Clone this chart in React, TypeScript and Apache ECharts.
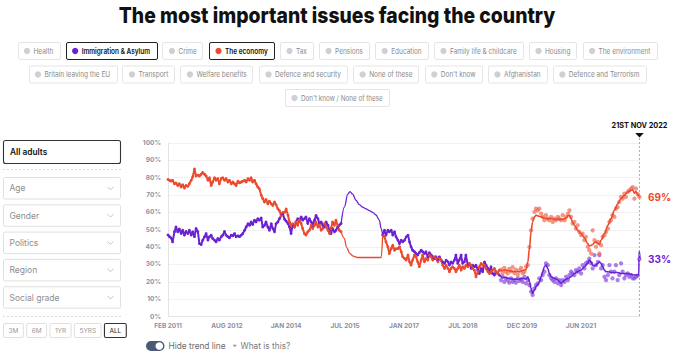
import React, { useEffect, useRef } from "react";
import * as echarts from "echarts";

const FONT = "Inter, 'Noto Sans', Roboto, sans-serif";
const RED = "#ec4a2c";
const PURPLE = "#6b21d4";
const RED_DOT = "#ee6a50";
const PURPLE_DOT = "#8548df";

const titleText = "The most important issues facing the country";
const issueRow1 = ["Health", "Immigration & Asylum", "Crime", "The economy", "Tax", "Pensions", "Education", "Family life & childcare", "Housing", "The environment"];
const issueRow2 = ["Britain leaving the EU", "Transport", "Welfare benefits", "Defence and security", "None of these", "Don't know", "Afghanistan", "Defence and Terrorism"];
const issueRow3 = ["Don't know / None of these"];
const shownIssues = ["Immigration & Asylum", "The economy"];
const filterLabels = ["Age", "Gender", "Politics", "Region", "Social grade"];
const audienceLabel = "All adults";
const rangeButtons = ["3M", "6M", "1YR", "5YRS", "ALL"];
const activeRange = "ALL";
const toggleLabel = "Hide trend line";
const helpLabel = "What is this?";

const axisStartDate = "2011-02-01";
const axisEndDate = "2022-11-21";
const axisEndLabel = "21ST NOV 2022";
const xTickLabels = ["FEB 2011", "AUG 2012", "JAN 2014", "JUL 2015", "JAN 2017", "JUL 2018", "DEC 2019", "JUN 2021", ""];

// ---- Survey data, Feb 2011 - Jun 2015 ----
const earlyDates1 = [
  "2011-02-01","2011-02-15","2011-03-01","2011-03-15","2011-04-01","2011-04-15","2011-05-01","2011-05-15","2011-06-01","2011-06-15","2011-07-01","2011-07-15","2011-08-01","2011-08-15","2011-09-01","2011-09-15","2011-10-01","2011-10-15","2011-11-01","2011-11-15","2011-12-01","2011-12-15",
  "2012-01-01","2012-01-15","2012-02-01","2012-02-15","2012-03-01","2012-03-15","2012-04-01","2012-04-15","2012-05-01","2012-05-15","2012-06-01","2012-06-15","2012-07-01","2012-07-15","2012-08-01","2012-08-15","2012-09-01","2012-09-15","2012-10-01","2012-10-15","2012-11-01","2012-11-15","2012-12-01","2012-12-15",
  "2013-01-01","2013-01-15","2013-02-01","2013-02-15","2013-03-01","2013-03-15","2013-04-01","2013-04-15","2013-05-01","2013-05-15","2013-06-01","2013-06-15","2013-07-01","2013-07-15","2013-08-01","2013-08-15","2013-09-01","2013-09-15","2013-10-01","2013-10-15","2013-11-01","2013-11-15","2013-12-01","2013-12-15",
  "2014-01-01","2014-01-15","2014-02-01","2014-02-15","2014-03-01","2014-03-15","2014-04-01","2014-04-15","2014-05-01","2014-05-15","2014-06-01","2014-06-15","2014-07-01","2014-07-15","2014-08-01","2014-08-15","2014-09-01","2014-09-15","2014-10-01","2014-10-15","2014-11-01","2014-11-15","2014-12-01","2014-12-15",
  "2015-01-01","2015-01-15","2015-02-01","2015-02-15","2015-03-01","2015-03-15","2015-04-01","2015-04-15","2015-05-01","2015-05-15","2015-06-01",
];
const economyEarly1 = [
  79, 78.5, 78, 78.5, 76.5, 77, 75.5, 76.5, 74.6, 76, 74, 75.5, 75, 76.5, 78.5, 80.5, 85, 81, 81.5, 81, 82, 83,
  82, 81, 78.5, 80, 75.5, 77.5, 80, 78.5, 79.5, 76.5, 79.5, 80, 78.5, 79.5, 77.5, 78.5, 76.5, 77.5, 76.5, 75.5, 78, 77, 77.5, 78,
  78.5, 77.5, 79.5, 78.5, 80, 77.5, 78.5, 76.5, 74.6, 73.7, 70, 68, 66, 67.5, 65, 66.5, 65, 64, 66, 64.5, 62, 61, 58, 60,
  60, 62, 58.4, 54.5, 52.6, 53.5, 51.6, 54.5, 52.6, 55.5, 53.6, 50.7, 47.8, 46.9, 48.8, 49.7, 52.6, 50.7, 52.6, 54.5, 51.6, 52.6, 49.7, 50.7,
  53.6, 51.6, 49.7, 47.8, 50.7, 54.5, 52.6, 55.5, 52.6, 49.7, 48.8,
];
const immigrationEarly1 = [
  47, 46, 45.3, 43, 48.8, 51.6, 48.8, 50.5, 47.8, 49.7, 46.9, 49, 47.8, 49.7, 46.9, 48.8, 46, 50.7, 48.8, 42, 41.5, 44,
  46, 47.8, 44, 46, 46.9, 45, 44, 43, 45, 44, 46, 46.9, 49, 46.9, 46, 45.3, 46.9, 46.5, 47.8, 46, 46.5, 46, 46.9, 47.8,
  49.7, 51.6, 53.5, 52.5, 54.5, 53, 55.5, 54.5, 56.4, 55.5, 56.8, 51.6, 52.5, 54.5, 51.6, 49.7, 53.5, 50.7, 48.8, 53.5, 54.5, 56.4, 58.3, 59.3,
  56, 55, 53.6, 51.6, 47.8, 52.6, 51.6, 54.5, 56.4, 55.5, 57.4, 55.5, 56.4, 57.4, 53.6, 56.4, 54.5, 52.6, 55.5, 58.3, 56.4, 53.6, 54.5, 52.6,
  51.6, 54.5, 52.6, 49.7, 47.8, 50.7, 48.8, 49.7, 51.6, 52.6, 53.6,
];

// ---- Sparse period, Jun 2015 - Jun 2016 ----
const economyGap: [string, number][] = [
  ["2015-06-01", 48.8], ["2015-07-01", 45], ["2015-07-20", 40], ["2015-08-20", 36.3], ["2015-09-20", 34.8],
  ["2015-11-01", 34], ["2016-06-01", 34], ["2016-06-15", 47],
];
const immigrationGap: [string, number][] = [
  ["2015-06-01", 53.6], ["2015-07-01", 63], ["2015-08-01", 70.5], ["2015-08-20", 72], ["2015-09-15", 70.5],
  ["2015-10-15", 67], ["2015-11-15", 64.5], ["2015-12-15", 63], ["2016-01-15", 62], ["2016-02-15", 61],
  ["2016-03-15", 60], ["2016-04-15", 58.5], ["2016-05-15", 55.5], ["2016-06-01", 50.7], ["2016-06-15", 46.9],
];

// ---- Survey data, Jun 2016 - May 2019 ----
const earlyDates2 = [
  "2016-06-15","2016-07-01","2016-07-15","2016-08-01","2016-08-15","2016-09-01","2016-09-15","2016-10-01","2016-10-15","2016-11-01","2016-11-15","2016-12-01","2016-12-15",
  "2017-01-01","2017-01-15","2017-02-01","2017-02-15","2017-03-01","2017-03-15","2017-04-01","2017-04-15","2017-05-01","2017-05-15","2017-06-01","2017-06-15","2017-07-01","2017-07-15","2017-08-01","2017-08-15","2017-09-01","2017-09-15","2017-10-01","2017-10-15","2017-11-01","2017-11-15","2017-12-01","2017-12-15",
  "2018-01-01","2018-01-15","2018-02-01","2018-02-15","2018-03-01","2018-03-15","2018-04-01","2018-04-15","2018-05-01","2018-05-15","2018-06-01","2018-06-15","2018-07-01","2018-07-15","2018-08-01","2018-08-15","2018-09-01","2018-09-15","2018-10-01","2018-10-15","2018-11-01","2018-11-15","2018-12-01","2018-12-15",
  "2019-01-01","2019-01-15","2019-02-01","2019-02-15","2019-03-01","2019-03-15","2019-04-01","2019-04-15","2019-05-01","2019-05-15",
];
const economyEarly2 = [
  47, 45.9, 43, 40.2, 36.3, 39.2, 41.1, 38.2, 39, 39.2, 40.2, 37.3, 34.4,
  33.4, 32.5, 35.4, 31.5, 29.6, 32.5, 35.4, 34.4, 31.5, 28.7, 32.5, 35.4, 31.5, 33.4, 32.5, 35.4, 34.4, 32.5, 34.4, 33.4, 31.5, 33.4, 32.5, 29.6,
  27.7, 29.6, 27.7, 25.8, 27.7, 28.7, 27.7, 25.8, 27.7, 29.6, 26.7, 28.7, 27.7, 29.6, 28.7, 30.6, 29.6, 27.7, 26.7, 22.9, 25.8, 28.7, 30.6, 29.6,
  29.6, 27.7, 25.8, 24.8, 25.8, 26.7, 27.7, 25.8, 24.8, 26.7,
];
const immigrationEarly2 = [
  46.9, 49.7, 46.9, 49.7, 48.8, 49.7, 46.9, 48.8, 45.9, 44, 42, 44, 43,
  44, 45.9, 46.9, 43, 40.2, 38.2, 37.3, 36.3, 35.4, 36.8, 38.2, 37.3, 36.3, 37.3, 34.4, 36.8, 35.4, 34.4, 33.4, 34.4, 32.5, 34.4, 32.5, 31.5,
  30.6, 32.5, 31.5, 29.6, 31.5, 30.6, 32.5, 35.4, 30.6, 32.5, 35.4, 30.6, 31.5, 35.4, 29.6, 30.6, 27.7, 29.6, 28.7, 29.6, 26.7, 24.8, 27.7, 25.8,
  31.5, 29.6, 27.7, 25.8, 28.7, 24.8, 23.9, 25.8, 24.8, 23.9,
];

// ---- Survey points, Jun 2019 - Nov 2022 ----
const lateDates = [
  "2019-06-01","2019-06-15","2019-07-01","2019-07-15","2019-08-01","2019-08-15","2019-09-01","2019-09-15","2019-10-01","2019-10-15","2019-11-01","2019-11-15","2019-12-01","2019-12-15",
  "2020-01-01","2020-01-15","2020-02-01","2020-02-15","2020-03-01","2020-03-15","2020-04-01","2020-04-15","2020-05-01","2020-05-15","2020-06-01","2020-06-15","2020-07-01","2020-07-15","2020-08-01","2020-08-15","2020-09-01","2020-09-15","2020-10-01","2020-10-15","2020-11-01","2020-11-15","2020-12-01","2020-12-15",
  "2021-01-01","2021-01-15","2021-02-01","2021-02-15","2021-03-01","2021-03-15","2021-04-01","2021-04-15","2021-05-01","2021-05-15","2021-06-01","2021-06-15","2021-07-01","2021-07-15","2021-08-01","2021-08-15","2021-09-01","2021-09-15","2021-10-01","2021-10-15","2021-11-01","2021-11-15","2021-12-01","2021-12-15",
  "2022-01-01","2022-01-15","2022-02-01","2022-02-15","2022-03-01","2022-03-15","2022-04-01","2022-04-15","2022-05-01","2022-05-15","2022-06-01","2022-06-15","2022-07-01","2022-07-15","2022-08-01","2022-08-15","2022-09-01","2022-09-15","2022-10-01","2022-10-15","2022-11-01","2022-11-15",
];
const economyPoints = [
  27, 25, 28, 26, 24.8, 27.5, 26, 28.5, 25, 27, 24, 26.5, 28, 25,
  25.8, 28.7, 29.6, 40, 49.7, 56.4, 60.3, 62.2, 61.2, 62.2, 59.3, 57.4, 55.5, 58.4, 56.4, 55.5, 57.4, 54.5, 56.4, 55.5, 57.4, 56.4, 55.5, 58.4,
  55.5, 57.4, 59.3, 61.2, 57.4, 53.6, 54.5, 50.7, 52.6, 48.8, 46.9, 47.8, 44, 45.9, 40.2, 38.2, 36.3, 49.7, 44, 40.2, 43, 36.3, 41.1, 45.9,
  46.9, 48.8, 50.7, 54.5, 55.5, 58.4, 57.4, 62.2, 63.1, 66, 68.9, 67.9, 70.8, 68.9, 71.8, 72.7, 73.7, 74.6, 67.9, 73.7, 70.5, 69,
];
const immigrationPoints = [
  21, 23, 20, 22, 21, 19.5, 22, 20, 21, 19.5, 22, 20.5, 21.5, 20,
  22.9, 19.1, 21, 18.1, 14.3, 12.4, 16.2, 18.1, 19.1, 22, 21, 23.9, 25.8, 30.6, 29.6, 23.9, 22, 21, 20, 22, 19.1, 21, 18.1, 21,
  20, 22.9, 21, 23.9, 25.8, 24.8, 23.9, 26.7, 25.8, 27.7, 24.8, 29.6, 27.7, 30.6, 31.5, 33.4, 30.6, 27.7, 35.4, 29.6, 31.5, 35.4, 27.7, 29.6,
  22.9, 21, 23.9, 29.6, 25.8, 22, 25.8, 29.6, 21, 23.9, 30.6, 25.8, 22, 23.9, 24.8, 22.9, 23.9, 22, 22, 22.9, 23.5, 33,
];

// ---- Trend lines, May 2019 - Nov 2022 ----
const economyTrend: [string, number][] = [
  ["2019-05-15", 26.7], ["2019-06-15", 26.5], ["2019-07-15", 26.8], ["2019-08-15", 26.3], ["2019-09-15", 26], ["2019-10-15", 25.8],
  ["2019-11-15", 25.8], ["2019-12-15", 26.5], ["2020-01-15", 27], ["2020-02-01", 31.5], ["2020-02-15", 39.2], ["2020-03-01", 48.8],
  ["2020-03-15", 54.5], ["2020-04-01", 57.4], ["2020-04-15", 58.4], ["2020-05-01", 58], ["2020-06-01", 57.4], ["2020-07-01", 56.8],
  ["2020-08-01", 56.4], ["2020-09-01", 56.4], ["2020-10-01", 56], ["2020-11-01", 56], ["2020-12-01", 56], ["2021-01-01", 56.4],
  ["2021-01-15", 56.8], ["2021-02-01", 58], ["2021-02-15", 58.4], ["2021-03-01", 56.4], ["2021-03-15", 54.5], ["2021-04-01", 52.6],
  ["2021-05-01", 49.7], ["2021-06-01", 47.8], ["2021-07-01", 45.3], ["2021-08-01", 42], ["2021-08-15", 40.7], ["2021-09-01", 41],
  ["2021-09-15", 41.5], ["2021-10-01", 42.6], ["2021-10-15", 43], ["2021-11-01", 42], ["2021-11-15", 41.5], ["2021-12-01", 44],
  ["2022-01-01", 47.8], ["2022-02-01", 52.6], ["2022-03-01", 56.4], ["2022-04-01", 61.2], ["2022-05-01", 65], ["2022-06-01", 68],
  ["2022-07-01", 69.8], ["2022-08-01", 71.8], ["2022-09-01", 72.7], ["2022-09-15", 73], ["2022-10-01", 71], ["2022-10-15", 72],
  ["2022-11-01", 70], ["2022-11-21", 69],
];
const immigrationTrend: [string, number][] = [
  ["2019-05-15", 23.9], ["2019-06-15", 22.5], ["2019-07-15", 22.5], ["2019-08-15", 22], ["2019-09-15", 21.5], ["2019-10-15", 21.5],
  ["2019-11-15", 21.5], ["2019-12-15", 22], ["2020-01-15", 21.5], ["2020-02-01", 22.9], ["2020-02-15", 20], ["2020-03-01", 16.2],
  ["2020-03-15", 13.3], ["2020-04-01", 15.2], ["2020-04-15", 17.2], ["2020-05-01", 18.1], ["2020-05-15", 20], ["2020-06-01", 22.9],
  ["2020-06-15", 25.8], ["2020-07-01", 28.7], ["2020-07-15", 29.6], ["2020-08-01", 27.7], ["2020-08-15", 24.8], ["2020-09-01", 22.9],
  ["2020-10-01", 22], ["2020-11-01", 21], ["2020-11-15", 20], ["2020-12-01", 19.1], ["2020-12-15", 20], ["2021-01-01", 21],
  ["2021-02-01", 22], ["2021-03-01", 22.9], ["2021-04-01", 24.8], ["2021-05-01", 25.8], ["2021-06-01", 26.7], ["2021-07-01", 28.7],
  ["2021-08-01", 30.6], ["2021-08-15", 32.5], ["2021-09-01", 31.5], ["2021-09-15", 29.6], ["2021-10-01", 29.2], ["2021-10-15", 29.6],
  ["2021-11-01", 30.6], ["2021-11-15", 31.5], ["2021-12-01", 30.6], ["2021-12-15", 28.7], ["2022-01-01", 26.7], ["2022-01-15", 25.8],
  ["2022-02-01", 25.8], ["2022-03-01", 25.4], ["2022-04-01", 25.4], ["2022-05-01", 25.4], ["2022-06-01", 24.8], ["2022-07-01", 24.8],
  ["2022-08-01", 24.8], ["2022-09-01", 24.3], ["2022-10-01", 23.9], ["2022-11-10", 23.9], ["2022-11-14", 38], ["2022-11-21", 33],
];

const T0 = Date.parse(axisStartDate);
const T1 = Date.parse(axisEndDate);
const X_STEPS = xTickLabels.length - 1;
const toX = (d: string) => ((Date.parse(d) - T0) / (T1 - T0)) * X_STEPS;
const zip = (dates: string[], vals: number[]) => dates.map((d, i) => [toX(d), vals[i]]);
const pairs = (arr: [string, number][]) => arr.map(([d, v]) => [toX(d), v]);

function measure(text: string, font: string): number {
  const ctx = document.createElement("canvas").getContext("2d");
  if (!ctx) return text.length * 4;
  ctx.font = font;
  return ctx.measureText(text).width;
}

const txt = (text: string, x: number, y: number, o: any = {}) => ({
  type: "text",
  x,
  y,
  z: 20,
  silent: true,
  scaleX: o.scaleX ?? 1,
  style: {
    text,
    fontFamily: FONT,
    fontSize: o.size ?? 8,
    fontWeight: o.weight ?? "normal",
    fill: o.color ?? "#666",
    textAlign: o.align ?? "left",
    textVerticalAlign: "middle",
  },
});

function buildGraphic(chart: echarts.ECharts) {
  const g: any[] = [];
  const W = 674;
  // Title
  const titleW = measure(titleText, `800 22px ${FONT}`);
  g.push(txt(titleText, W / 2, 15.5, { size: 22, weight: 800, color: "#111", align: "center", scaleX: 437 / titleW }));

  // Issue chips (each row fitted to the width it takes in the reference)
  const rows = [issueRow1, issueRow2, issueRow3];
  const rowTops = [42, 65.5, 89];
  const rowWidths = [639, 617, 104];
  const chipH = 17;
  const gap = 6.2;
  const pad = 22;
  rows.forEach((row, ri) => {
    const textW = row.map((name) => {
      const sel = shownIssues.includes(name);
      return measure(name, `${sel ? 600 : 400} 7.5px ${FONT}`);
    });
    const sumText = textW.reduce((a, b) => a + b, 0);
    const k = Math.min(1, (rowWidths[ri] - pad * row.length - gap * (row.length - 1)) / sumText);
    const widths = textW.map((w) => w * k + pad);
    const total = widths.reduce((a, b) => a + b, 0) + gap * (row.length - 1);
    let x = W / 2 - total / 2;
    row.forEach((name, i) => {
      const sel = shownIssues.includes(name);
      const color = name === "The economy" ? RED : name === "Immigration & Asylum" ? PURPLE : "#cfcfd4";
      const y = rowTops[ri];
      g.push({
        type: "rect", z: 20, silent: true,
        shape: { x: Math.round(x) + 0.5, y: y + 0.5, width: Math.round(widths[i]), height: chipH, r: 1.5 },
        style: { fill: "#fff", stroke: sel ? "#222" : "#dedede", lineWidth: sel ? 1 : 0.8 },
      });
      g.push({ type: "circle", z: 21, silent: true, shape: { cx: x + 9.5, cy: y + chipH / 2 + 0.5, r: 3.1 }, style: { fill: color } });
      g.push(txt(name, x + 16, y + chipH / 2 + 0.7, { size: 7.5, weight: sel ? 600 : 400, color: sel ? "#111" : "#8a8a8a", scaleX: k }));
      x += widths[i] + gap;
    });
  });

  // Left panel
  g.push({ type: "rect", z: 20, silent: true, shape: { x: 3.5, y: 140.5, width: 117, height: 23, r: 2 }, style: { fill: "#fff", stroke: "#333", lineWidth: 1.1 } });
  g.push(txt(audienceLabel, 10, 152.2, { size: 8.3, weight: 600, color: "#111" }));
  g.push({ type: "line", z: 20, silent: true, shape: { x1: 3, y1: 169.5, x2: 121, y2: 169.5 }, style: { stroke: "#cfcfcf", lineWidth: 0.8, lineDash: [2, 2] } });
  const ddTops = [177, 204.3, 231.6, 258.9, 286.2];
  filterLabels.forEach((label, i) => {
    const y = ddTops[i];
    g.push({ type: "rect", z: 20, silent: true, shape: { x: 3.5, y: y + 0.5, width: 117, height: 21.5, r: 1.5 }, style: { fill: "#fff", stroke: "#dcdcdc", lineWidth: 0.9 } });
    g.push(txt(label, 9.5, y + 11.3, { size: 8.5, color: "#8d8d8d" }));
    const cy = y + 11.3;
    g.push({ type: "polyline", z: 21, silent: true, shape: { points: [[107.5, cy - 1.5], [110.5, cy + 1.5], [113.5, cy - 1.5]] }, style: { stroke: "#b5b5b5", fill: null, lineWidth: 0.8 } });
  });
  g.push({ type: "line", z: 20, silent: true, shape: { x1: 3, y1: 316.5, x2: 121, y2: 316.5 }, style: { stroke: "#cfcfcf", lineWidth: 0.8, lineDash: [2, 2] } });
  let bx = 3;
  rangeButtons.forEach((label) => {
    const active = label === activeRange;
    const w = measure(label, `400 6.5px ${FONT}`) + 10;
    g.push({ type: "rect", z: 20, silent: true, shape: { x: bx + 0.5, y: 323.5, width: w, height: 14, r: 1.5 }, style: { fill: "#fff", stroke: active ? "#333" : "#dcdcdc", lineWidth: active ? 1.1 : 0.9 } });
    g.push(txt(label, bx + 0.5 + w / 2, 330.8, { size: 6.5, color: active ? "#222" : "#9a9a9a", align: "center" }));
    bx += w + 3.3;
  });

  // Trend toggle
  g.push({ type: "rect", z: 20, silent: true, shape: { x: 146, y: 341, width: 18.5, height: 10, r: 5 }, style: { fill: "#4b5876" } });
  g.push({ type: "circle", z: 21, silent: true, shape: { cx: 159.3, cy: 346, r: 3.8 }, style: { fill: "#fff" } });
  g.push(txt(toggleLabel, 168.5, 346.3, { size: 8.3, color: "#6b6b6b" }));
  g.push({ type: "polygon", z: 20, silent: true, shape: { points: [[232.5, 344.8], [237, 344.8], [234.75, 347.2]] }, style: { fill: "#9a9a9a" } });
  g.push(txt(helpLabel, 240.5, 346.3, { size: 8.3, color: "#7a7a7a" }));

  // Latest-date marker
  const top = chart.convertToPixel({ xAxisIndex: 0, yAxisIndex: 0 }, [X_STEPS, 100]) as number[];
  const bottom = chart.convertToPixel({ xAxisIndex: 0, yAxisIndex: 0 }, [X_STEPS, 0]) as number[];
  const mx = Math.round(top[0]) - 0.5;
  g.push({ type: "line", z: 5, silent: true, shape: { x1: mx, y1: top[1] - 5, x2: mx, y2: bottom[1] }, style: { stroke: "#9a9a9a", lineWidth: 0.8, lineDash: [2, 2] } });
  g.push({ type: "polygon", z: 20, silent: true, shape: { points: [[mx - 4.3, top[1] - 10], [mx + 4.3, top[1] - 10], [mx, top[1] - 5.5]] }, style: { fill: "#111" } });
  g.push(txt(axisEndLabel, mx, top[1] - 17.5, { size: 7.3, weight: 700, color: "#111", align: "center" }));
  return g;
}

export default function App() {
  const ref = useRef<HTMLDivElement>(null);
  useEffect(() => {
    document.body.style.margin = "0";
    if (!ref.current) return;
    const chart = echarts.init(ref.current, undefined, { renderer: "svg" });

    const earlyLine = (name: string, color: string, data: number[][]) => ({
      type: "line", name, data, z: 3, silent: true,
      symbol: "circle", symbolSize: 2.8, showSymbol: true,
      itemStyle: { color },
      lineStyle: { color, width: 2 },
    });
    const smoothLine = (name: string, color: string, data: number[][], width: number, endLabel = false) => ({
      type: "line", name, data, z: 4, silent: true,
      smooth: 0.35, smoothMonotone: "x", showSymbol: false, symbol: "none",
      lineStyle: { color, width },
      endLabel: endLabel
        ? {
            show: true,
            formatter: (p: any) => `${Math.round(p.value[1])}%`,
            color, fontWeight: "bold", fontSize: 10, fontFamily: FONT, distance: 8,
          }
        : { show: false },
    });
    const dots = (name: string, color: string, data: number[][]) => ({
      type: "scatter", name, data, z: 2, silent: true,
      symbolSize: 4.3, itemStyle: { color, opacity: 0.7 },
    });

    const axisLabelStyle = { color: "#8b90a5", fontSize: 6.5, fontWeight: "bold", fontFamily: FONT };

    chart.setOption({
      animation: false,
      textStyle: { fontFamily: FONT },
      grid: { left: 168, right: 34, top: 143, bottom: 46.5, containLabel: false },
      xAxis: {
        type: "value", min: 0, max: X_STEPS, interval: 1,
        axisLine: { show: true, lineStyle: { color: "#e4e4e8", width: 1 } },
        axisTick: { show: false },
        splitLine: { show: false },
        axisLabel: { ...axisLabelStyle, margin: 6, formatter: (v: number) => xTickLabels[Math.round(v)] ?? "" },
      },
      yAxis: {
        type: "value", min: 0, max: 100, interval: 10,
        axisLine: { show: true, lineStyle: { color: "#e4e4e8", width: 1 } },
        axisTick: { show: false },
        splitLine: { show: true, lineStyle: { color: "#f1f1f3", width: 1 } },
        axisLabel: { ...axisLabelStyle, margin: 7, formatter: "{value}%" },
      },
      series: [
        dots("Immigration & Asylum points", PURPLE_DOT, zip(lateDates, immigrationPoints)),
        dots("The economy points", RED_DOT, zip(lateDates, economyPoints)),
        earlyLine("Immigration & Asylum 2011-15", PURPLE, zip(earlyDates1, immigrationEarly1)),
        smoothLine("Immigration & Asylum 2015-16", PURPLE, pairs(immigrationGap), 1.3),
        earlyLine("Immigration & Asylum 2016-19", PURPLE, zip(earlyDates2, immigrationEarly2)),
        smoothLine("Immigration & Asylum trend", PURPLE, pairs(immigrationTrend), 1.6, true),
        earlyLine("The economy 2011-15", RED, zip(earlyDates1, economyEarly1)),
        smoothLine("The economy 2015-16", RED, pairs(economyGap), 1.3),
        earlyLine("The economy 2016-19", RED, zip(earlyDates2, economyEarly2)),
        smoothLine("The economy trend", RED, pairs(economyTrend), 1.6, true),
      ],
    });
    chart.setOption({ graphic: buildGraphic(chart) });

    return () => chart.dispose();
  }, []);
  return <div ref={ref} style={{ width: 674, height: 363 }} />;
}
